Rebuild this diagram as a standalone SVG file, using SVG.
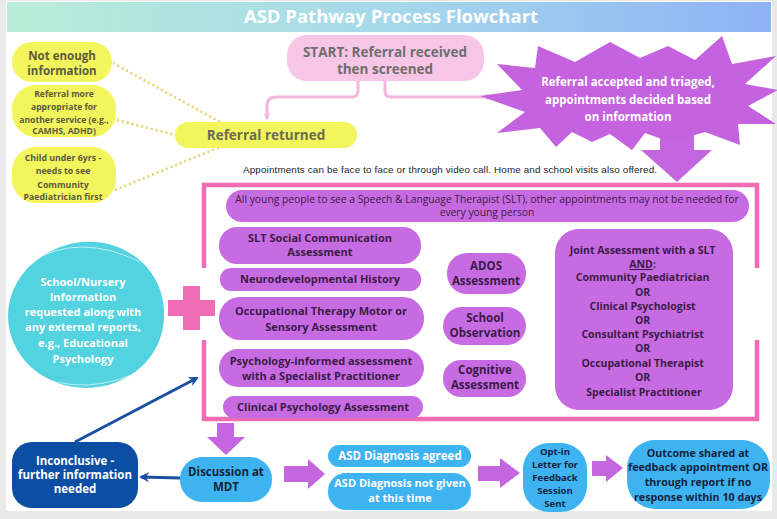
<svg xmlns="http://www.w3.org/2000/svg" width="777" height="519" viewBox="0 0 777 519">
<defs>
<linearGradient id="tg" x1="0" y1="0" x2="1" y2="0">
<stop offset="0" stop-color="#b9ecd7"/>
<stop offset="0.5" stop-color="#a6d9ea"/>
<stop offset="1" stop-color="#8eb2f6"/>
</linearGradient>
<marker id="pk" viewBox="0 0 10 10" refX="9" refY="5" markerWidth="7" markerHeight="7" orient="auto" markerUnits="userSpaceOnUse">
<path d="M1,1 L9,5 L1,9" fill="none" stroke="#f4b6dd" stroke-width="1.6"/>
</marker>
<marker id="bl" viewBox="0 0 10 10" refX="8" refY="5" markerWidth="10" markerHeight="10" orient="auto" markerUnits="userSpaceOnUse">
<path d="M0,0 L10,5 L0,10 L3,5 Z" fill="#1b4f9f"/>
</marker>
<style>
text{font-family:"Open Sans","Liberation Sans",sans-serif;font-weight:700;text-anchor:middle}
.ye{fill:#f2f55c}
.yt{fill:#5d5a3c}
.pu{fill:#c76be2}
.pt{fill:#3c1b48}
.bu{fill:#3eb3f1}
.nt{fill:#13233c}
.wt{fill:#ffffff}
.dot{fill:none;stroke:#e3d16a;stroke-width:2.5;stroke-dasharray:2 3}
.pc{fill:none;stroke:#f4b6dd;stroke-width:3}
.fr{fill:none;stroke:#f06db5;stroke-width:4.5}
.ar{fill:#c466e0}
</style>
</defs>
<rect x="0" y="0" width="777" height="519" fill="#e9e9e9"/>
<rect x="6" y="1" width="766" height="510" fill="#ffffff"/>
<rect x="7" y="2" width="764" height="30" fill="url(#tg)"/>
<text x="391" y="23" font-size="18.5" class="wt">ASD Pathway Process Flowchart</text>

<g id="connectors">
<line class="dot" x1="113" y1="63" x2="220" y2="122"/>
<line class="dot" x1="117" y1="120" x2="175" y2="135"/>
<line class="dot" x1="115" y1="190" x2="220" y2="147"/>
<path class="pc" d="M358,81 V91 Q358,97 352,97 H276 Q267,97 267,106 V119" marker-end="url(#pk)"/>
<path class="pc" d="M385,81 V91 Q385,97 391,97 H492" marker-end="url(#pk)"/>
<polygon class="ar" points="660,125 694,125 694,150 712,150 677,182 641,150 660,150"/>
<polygon class="ar" points="217,423 234,423 234,437 245,437 226,455 207,437 217,437"/>
<polygon class="ar" points="284,466 308,466 308,459 325,474 308,489 308,482 284,482"/>
<polygon class="ar" points="478,466 500,466 500,458 520,473 500,488 500,481 478,481"/>
<polygon class="ar" points="592,461 606,461 606,455 623,468 606,482 606,476 592,476"/>
<line x1="180" y1="478" x2="141" y2="477" stroke="#1b4f9f" stroke-width="3" marker-end="url(#bl)"/>
<line x1="75" y1="442" x2="197" y2="378" stroke="#1b4f9f" stroke-width="3" marker-end="url(#bl)"/>
</g>

<g id="frame">
<path class="fr" d="M204,268 V185 H757 V268"/>
<path class="fr" d="M204,340 V419 H757 V340"/>
</g>

<g id="plus">
<rect x="168" y="300" width="47" height="16" fill="#f06db5"/>
<rect x="183" y="286" width="17" height="44" fill="#f06db5"/>
</g>

<g id="not-enough">
<rect class="ye" x="12" y="42" width="100" height="40" rx="20"/>
<text class="yt" font-size="11.5"><tspan x="62" y="60">Not enough</tspan><tspan x="62" y="75">information</tspan></text>
</g>
<g id="more-appropriate">
<rect class="ye" x="12" y="85" width="104" height="52" rx="24"/>
<text class="yt" font-size="8.6"><tspan x="64" y="97">Referral more</tspan><tspan x="64" y="110">appropriate for</tspan><tspan x="64" y="123">another service (e.g.,</tspan><tspan x="64" y="134">CAMHS, ADHD)</tspan></text>
</g>
<g id="child-under">
<rect class="ye" x="12" y="147" width="104" height="56" rx="24"/>
<text class="yt" font-size="8.8"><tspan x="63" y="161">Child under 6yrs -</tspan><tspan x="63" y="174">needs to see</tspan><tspan x="63" y="188">Community</tspan><tspan x="63" y="200">Paediatrician first</tspan></text>
</g>
<g id="referral-returned">
<rect class="ye" x="175" y="122" width="182" height="26" rx="13"/>
<text x="266" y="140" font-size="13.5" fill="#6b6b55">Referral returned</text>
</g>

<g id="start">
<rect x="287" y="35" width="197" height="46" rx="20" fill="#f7c6e6"/>
<text font-size="13.5" fill="#6e6e6e"><tspan x="385" y="57">START: Referral received</tspan><tspan x="385" y="74">then screened</tspan></text>
</g>

<g id="accepted">
<polygon fill="#c462df" points="480,96 522,90 497,64 535,68 538,46 575,62 610,42 640,58 668,46 695,60 722,36 732,64 776,56 745,84 778,90 748,106 776,124 738,124 740,145 705,132 670,142 645,133 632,150 610,134 592,142 572,132 556,147 540,128 497,133 525,112"/>
<text class="wt" font-size="11.5"><tspan x="628" y="86">Referral accepted and triaged,</tspan><tspan x="628" y="104">appointments decided based</tspan><tspan x="628" y="121">on information</tspan></text>
</g>

<text x="450" y="173" font-size="9.8" textLength="414" lengthAdjust="spacing" fill="#222222" style="font-family:'Liberation Sans',sans-serif;font-weight:400">Appointments can be face to face or through video call. Home and school visits also offered.</text>

<g id="all-young">
<rect class="pu" x="226" y="190" width="523" height="32" rx="16"/>
<text class="pt" font-size="10.3" style="font-weight:500"><tspan x="487" y="203">All young people to see a Speech &amp; Language Therapist (SLT), other appointments may not be needed for</tspan><tspan x="487" y="216">every young person</tspan></text>
</g>
<g id="slt">
<rect class="pu" x="219" y="227" width="202" height="37" rx="18"/>
<text class="pt" font-size="11"><tspan x="320" y="242">SLT Social Communication</tspan><tspan x="320" y="256">Assessment</tspan></text>
</g>
<g id="neuro">
<rect class="pu" x="220" y="268" width="201" height="23" rx="11"/>
<text class="pt" font-size="11" x="320" y="283">Neurodevelopmental History</text>
</g>
<g id="ot">
<rect class="pu" x="219" y="297" width="205" height="43" rx="21"/>
<text class="pt" font-size="11"><tspan x="321" y="315">Occupational Therapy Motor or</tspan><tspan x="321" y="331">Sensory Assessment</tspan></text>
</g>
<g id="psych-informed">
<rect class="pu" x="219" y="349" width="205" height="38" rx="19"/>
<text class="pt" font-size="11"><tspan x="321" y="365">Psychology-informed assessment</tspan><tspan x="321" y="380">with a Specialist Practitioner</tspan></text>
</g>
<g id="clinical">
<rect class="pu" x="223" y="396" width="200" height="22" rx="11"/>
<text class="pt" font-size="11" x="323" y="411">Clinical Psychology Assessment</text>
</g>
<g id="ados">
<rect class="pu" x="447" y="253" width="79" height="41" rx="20"/>
<text class="pt" font-size="11.5"><tspan x="486" y="270">ADOS</tspan><tspan x="486" y="285">Assessment</tspan></text>
</g>
<g id="school-obs">
<rect class="pu" x="443" y="307" width="83" height="38" rx="19"/>
<text class="pt" font-size="11.5"><tspan x="485" y="322">School</tspan><tspan x="485" y="337">Observation</tspan></text>
</g>
<g id="cognitive">
<rect class="pu" x="443" y="360" width="83" height="37" rx="18"/>
<text class="pt" font-size="11.5"><tspan x="485" y="374">Cognitive</tspan><tspan x="485" y="389">Assessment</tspan></text>
</g>
<g id="joint">
<rect class="pu" x="555" y="229" width="178" height="181" rx="24"/>
<text class="pt" font-size="10.5">
<tspan x="644" y="254">Joint Assessment with a SLT</tspan>
<tspan x="644" y="268"><tspan text-decoration="underline">AND</tspan>:</tspan>
<tspan x="644" y="281">Community Paediatrician</tspan>
<tspan x="644" y="296">OR</tspan>
<tspan x="644" y="310">Clinical Psychologist</tspan>
<tspan x="644" y="324">OR</tspan>
<tspan x="644" y="338">Consultant Psychiatrist</tspan>
<tspan x="644" y="352">OR</tspan>
<tspan x="644" y="367">Occupational Therapist</tspan>
<tspan x="644" y="381">OR</tspan>
<tspan x="644" y="396">Specialist Practitioner</tspan>
</text>
</g>

<g id="school-info">
<ellipse cx="86" cy="316" rx="78" ry="72" fill="#52d3df"/>
<ellipse cx="87" cy="314" rx="77" ry="72" fill="#52d3df" transform="rotate(-12 87 314)"/>
<path d="M30,262 Q80,232 140,262" fill="none" stroke="#ffffff" stroke-width="1" opacity="0.6"/>
<path d="M28,372 Q86,400 146,368" fill="none" stroke="#ffffff" stroke-width="1" opacity="0.6"/>
<text class="wt" font-size="11"><tspan x="83" y="286">School/Nursery</tspan><tspan x="83" y="301">Information</tspan><tspan x="83" y="316">requested along with</tspan><tspan x="83" y="331">any external reports,</tspan><tspan x="83" y="347">e.g., Educational</tspan><tspan x="83" y="363">Psychology</tspan></text>
</g>

<g id="inconclusive">
<rect x="12" y="442" width="126" height="66" rx="20" fill="#0b4ea3"/>
<text class="wt" font-size="11.5"><tspan x="75" y="465">Inconclusive -</tspan><tspan x="75" y="479">further information</tspan><tspan x="75" y="493">needed</tspan></text>
</g>
<g id="mdt">
<rect class="bu" x="180" y="457" width="92" height="45" rx="22"/>
<text class="nt" font-size="11.5"><tspan x="226" y="476">Discussion at</tspan><tspan x="226" y="491">MDT</tspan></text>
</g>
<g id="asd-agreed">
<rect class="bu" x="328" y="445" width="143" height="22" rx="11"/>
<text class="wt" font-size="11.5" x="400" y="460">ASD Diagnosis agreed</text>
</g>
<g id="asd-not-given">
<rect class="bu" x="328" y="473" width="143" height="37" rx="18"/>
<text class="wt" font-size="11"><tspan x="400" y="487">ASD Diagnosis not given</tspan><tspan x="400" y="502">at this time</tspan></text>
</g>
<g id="opt-in">
<rect class="bu" x="523" y="443" width="64" height="69" rx="26"/>
<text class="nt" font-size="9.6"><tspan x="555" y="455">Opt-in</tspan><tspan x="555" y="468">Letter for</tspan><tspan x="555" y="481">Feedback</tspan><tspan x="555" y="494">Session</tspan><tspan x="555" y="507">Sent</tspan></text>
</g>
<g id="outcome">
<rect class="bu" x="627" y="440" width="143" height="69" rx="28"/>
<text class="nt" font-size="10.7"><tspan x="698" y="457">Outcome shared at</tspan><tspan x="698" y="471">feedback appointment OR</tspan><tspan x="698" y="486">through report if no</tspan><tspan x="698" y="501">response within 10 days</tspan></text>
</g>
</svg>
